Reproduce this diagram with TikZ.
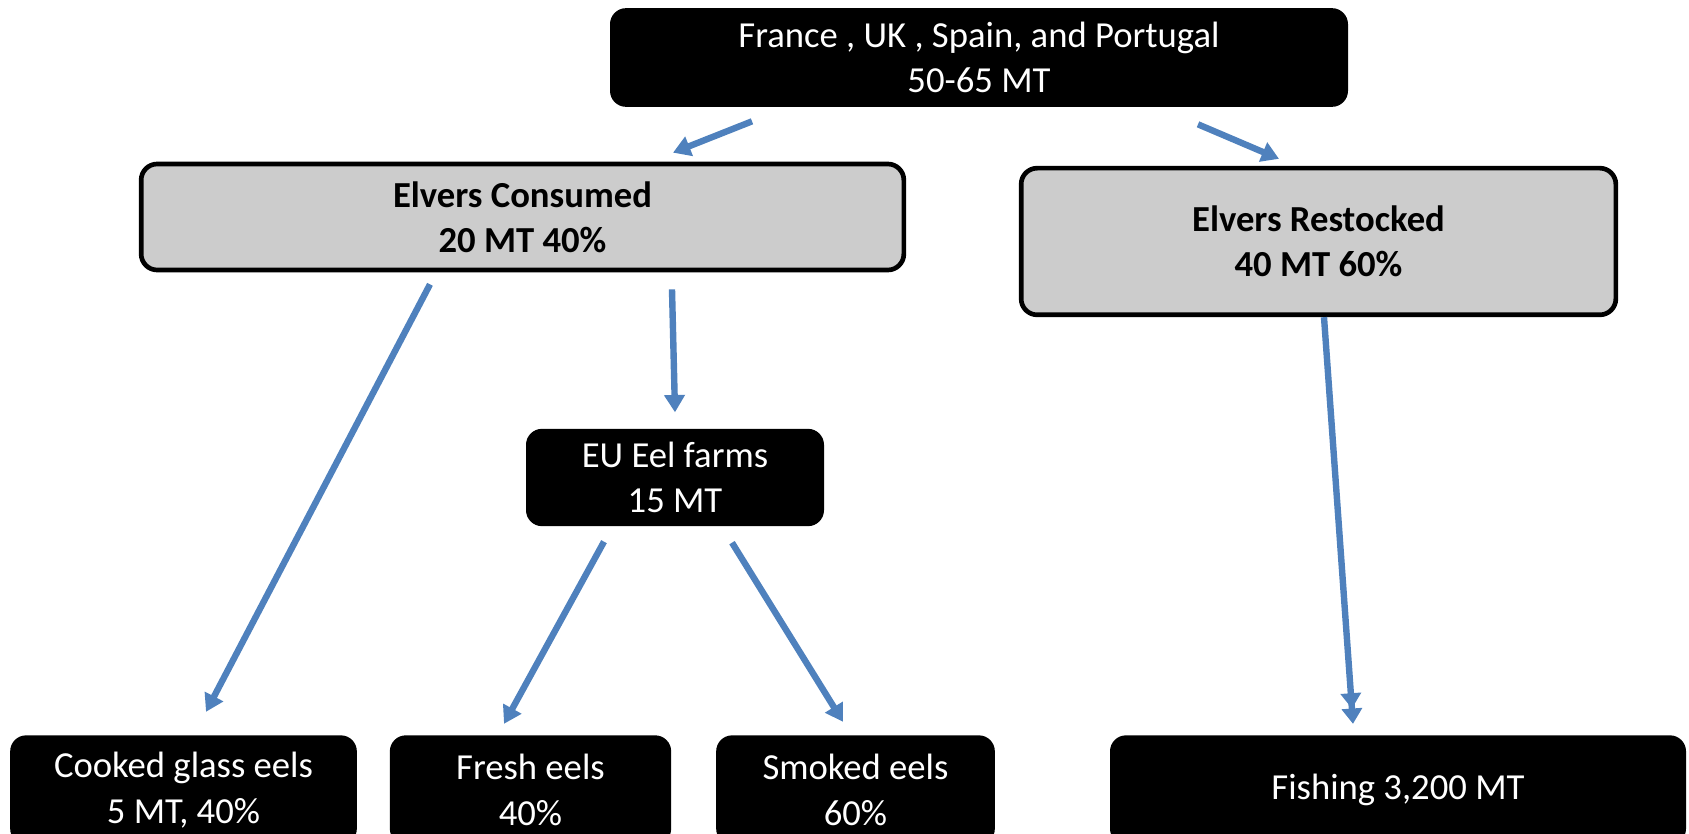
\documentclass[tikz,border=0pt]{standalone}
\usepackage{fontspec}
\setmainfont{Carlito}
\usetikzlibrary{arrows.meta,calc}

\definecolor{flowblue}{RGB}{79,129,189}
\definecolor{boxgrey}{RGB}{204,204,204}

\tikzset{every picture/.style={line width=0.75pt}}
\tikzset{
  darkbox/.style={fill=black,text=white,rounded corners=12pt,inner sep=0pt,align=center,font=\fontsize{27.5}{34}\selectfont},
  greybox/.style={fill=boxgrey,draw=black,line width=3.5pt,rounded corners=12pt,inner sep=0pt,align=center,font=\fontsize{27.5}{34}\selectfont\bfseries},
  flow/.style={draw=flowblue,line width=4.8pt,-{Triangle[length=13pt,width=15pt]}},
  doubleflow/.style={flow,-{Triangle[length=11.5pt,width=15pt]Triangle[length=11.5pt,width=15pt]}}
}

\begin{document}
\begin{tikzpicture}[x=0.75pt,y=0.75pt,yscale=-1,xscale=1]
	\useasboundingbox (0,0) rectangle (1689,834);
	
	% Source box
	\node [darkbox,minimum width=553.5pt,minimum height=74pt] (top) at (979,57.5) {France , UK , Spain, and Portugal\\50-65 MT};
	% Split boxes
	\node [greybox,minimum width=572pt,minimum height=79.5pt] (cons) at (522.5,217) {Elvers Consumed\\20 MT 40\%};
	\node [greybox,minimum width=446pt,minimum height=110pt] (rest) at (1318.5,241.5) {Elvers Restocked\\40 MT 60\%};
	% Farm box
	\node [darkbox,minimum width=223.5pt,minimum height=73pt] (farm) at (675,477.5) {EU Eel farms\\15 MT};
	% End boxes
	\node [darkbox,minimum width=260pt,minimum height=82pt] (cook) at (183.5,790) {Cooked glass eels\\5 MT, 40\%};
	\node [darkbox,minimum width=211pt,minimum height=82pt] (fresh) at (530.5,790) {Fresh eels\\40\%};
	\node [darkbox,minimum width=209pt,minimum height=82pt] (smoked) at (855.5,790) {Smoked eels\\60\%};
	\node [darkbox,minimum width=432pt,minimum height=82pt] (fish) at (1398,790) {Fishing 3,200 MT};
	
	% Flows
	\draw [flow] ($(top.south)+(-227,14)$) -- ($(cons.north)+(150.5,-9)$);
	\draw [flow] ($(top.south)+(219,17)$) -- ($(rest.north)+(-39.5,-7)$);
	\draw [flow] ($(cons.south)+(-92.5,12)$) -- ($(cook.north)+(22.5,-23)$);
	\draw [flow] ($(cons.south)+(149.5,17)$) -- ($(farm.north)+(0,-16)$);
	\draw [flow] ($(farm.south)+(-71,15)$) -- ($(fresh.north)+(-26.5,-11)$);
	\draw [flow] ($(farm.south)+(57,16)$) -- ($(smoked.north)+(-12.5,-13)$);
	\draw [doubleflow] ($(rest.south)+(5.5,0)$) -- ($(fish.north)+(-45,-11)$);
	
\end{tikzpicture}
\end{document}
